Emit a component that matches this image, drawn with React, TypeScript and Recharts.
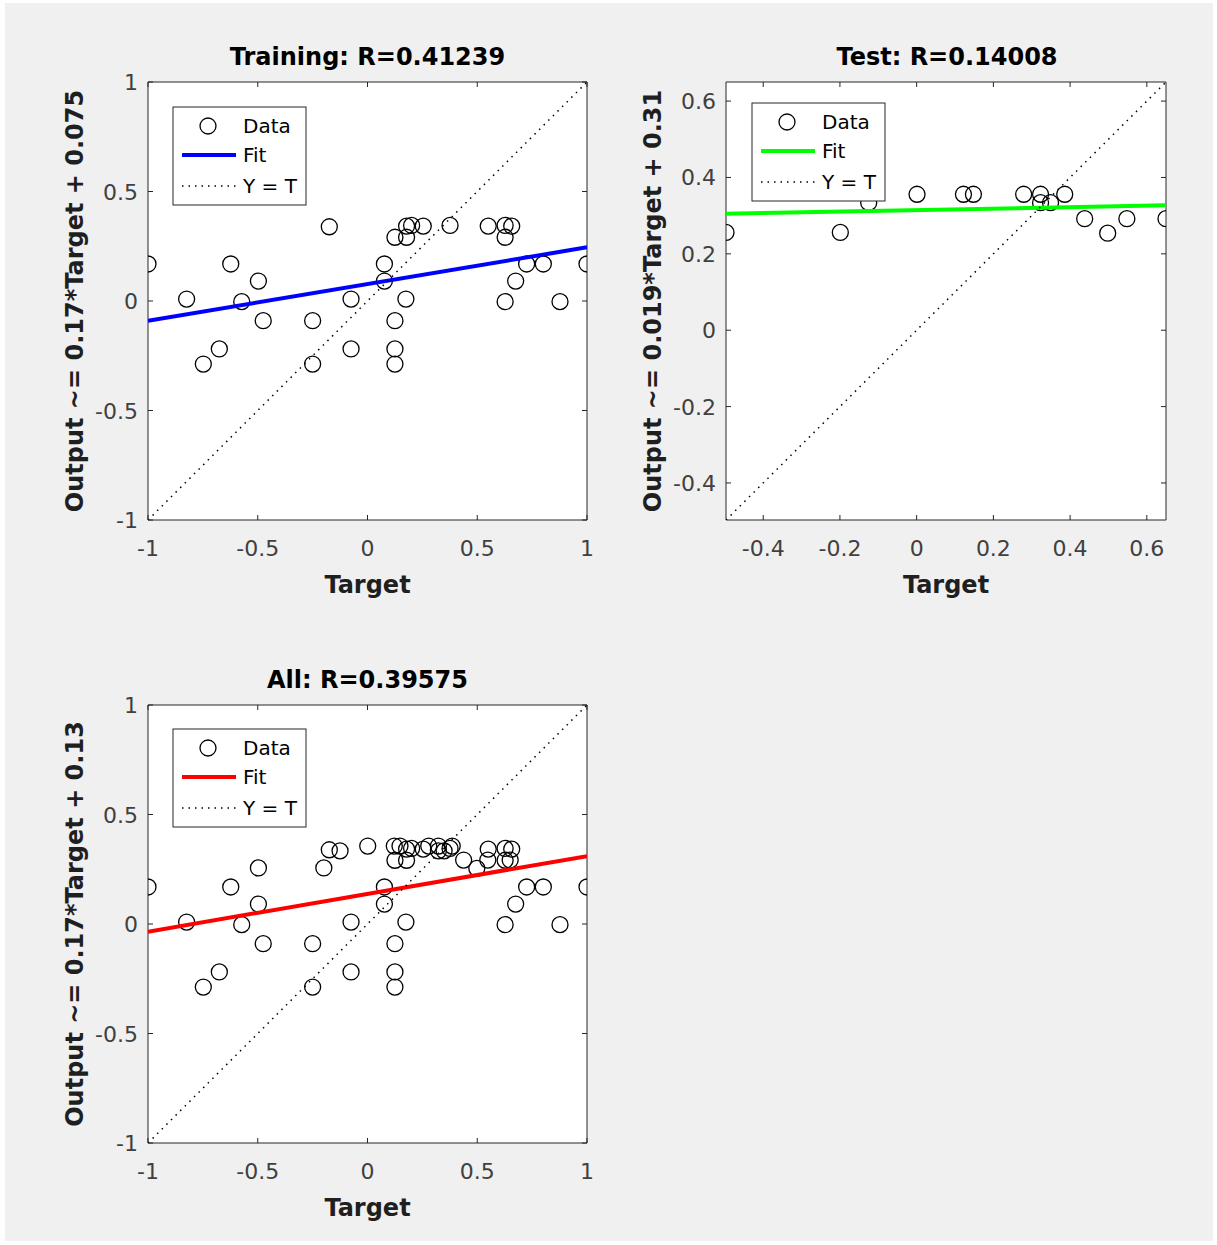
import { ScatterChart, Scatter, XAxis, YAxis, CartesianGrid, ReferenceArea } from "recharts";

// training set: target vs network output
const trainTarget = [
  -1, -0.623, -0.174, -0.497, -0.824, -0.573, -0.475, -0.25, -0.675, -0.748, -0.25, -0.075,
  -0.075, 0.077, 0.077, 0.125, 0.178, 0.178, 0.201, 0.254, 0.376, 0.55, 0.627, 0.657, 0.627,
  0.175, 0.125, 0.125, 0.125, 0.725, 0.801, 1, 0.675, 0.627, 0.877,
];
const trainOutput = [
  0.169, 0.169, 0.339, 0.091, 0.009, -0.003, -0.09, -0.09, -0.219, -0.288, -0.288, 0.009,
  -0.219, 0.169, 0.091, 0.291, 0.291, 0.342, 0.345, 0.342, 0.345, 0.342, 0.345, 0.342, 0.291,
  0.009, -0.09, -0.219, -0.288, 0.169, 0.169, 0.169, 0.091, -0.003, -0.003,
];

// test set
const testTarget = [
  -0.497, -0.199, -0.125, 0.001, 0.122, 0.148, 0.279, 0.323, 0.323, 0.349, 0.386, 0.438, 0.498,
  0.548, 0.65,
];
const testOutput = [
  0.256, 0.256, 0.334, 0.356, 0.356, 0.356, 0.356, 0.356, 0.334, 0.334, 0.356, 0.292, 0.254,
  0.292, 0.292,
];

// fit lines (end points)
const trainFitTarget = [-1, 1];
const trainFitOutput = [-0.09, 0.245];
const testFitTarget = [-0.497, 0.65];
const testFitOutput = [0.305, 0.327];
const allFitTarget = [-1, 1];
const allFitOutput = [-0.035, 0.31];

const fullRange = [-1, 1];
const testRange = [-0.497, 0.65];
const fullTicks = [-1, -0.5, 0, 0.5, 1];
const testTicks = [-0.4, -0.2, 0, 0.2, 0.4, 0.6];

const FONT = "DejaVu Sans";
const AXIS = "#262626";
const TICK = "#404040";

const pairs = (xs: number[], ys: number[]) => xs.map((x, i) => ({ x, y: ys[i] }));

const trainData = pairs(trainTarget, trainOutput);
const testData = pairs(testTarget, testOutput);
const allData = [...trainData, ...testData];

const Ring = (p: any) => (
  <circle cx={p.cx} cy={p.cy} r={8} fill="none" stroke="#000" strokeWidth={1.3} />
);
const NoDot = () => <g />;

const makeXTick = (h: number) => (p: any) => (
  <g>
    <line x1={p.x} x2={p.x} y1={p.y} y2={p.y - 5} stroke={AXIS} />
    <line x1={p.x} x2={p.x} y1={p.y - h} y2={p.y - h + 5} stroke={AXIS} />
    <text x={p.x} y={p.y + 36} textAnchor="middle" fontSize={22} fill={TICK} fontFamily={FONT}>
      {String(p.payload.value)}
    </text>
  </g>
);

const makeYTick = (w: number) => (p: any) => (
  <g>
    <line x1={p.x} x2={p.x + 5} y1={p.y} y2={p.y} stroke={AXIS} />
    <line x1={p.x + w} x2={p.x + w - 5} y1={p.y} y2={p.y} stroke={AXIS} />
    <text x={p.x - 10} y={p.y + 8} textAnchor="end" fontSize={22} fill={TICK} fontFamily={FONT}>
      {String(p.payload.value)}
    </text>
  </g>
);

type Box = { x: number; y: number; w: number; h: number };

function Panel({ box, range, ticks, data, fit, color, yLabel }: {
  box: Box; range: number[]; ticks: number[]; data: any[]; fit: any[]; color: string; yLabel: string;
}) {
  const ML = 140, MT = 30, MR = 30, MB = 100;
  const YW = 60, XH = 40;
  const diag = pairs(range, range);
  return (
    <div style={{ position: "absolute", left: box.x - ML, top: box.y - MT }}>
      <ScatterChart width={box.w + ML + MR} height={box.h + MT + MB} margin={{ top: MT, right: MR, bottom: MB - XH, left: ML - YW }}>
        <CartesianGrid horizontal={false} vertical={false} fill="#fff" />
        <ReferenceArea x1={range[0]} x2={range[1]} y1={range[0]} y2={range[1]} fill="none" stroke={AXIS} strokeWidth={1} fillOpacity={0} ifOverflow="visible" />
        <XAxis
          type="number" dataKey="x" domain={range} ticks={ticks} interval={0} allowDataOverflow
          height={XH} tickSize={0} tickMargin={0} tickLine={false} axisLine={false}
          tick={makeXTick(box.h)}
          label={(p: any) => (
            <text x={p.viewBox.x + p.viewBox.width / 2} y={p.viewBox.y + 73} textAnchor="middle" fontSize={24} fontWeight="bold" fill="#1f1f1f" fontFamily={FONT}>
              Target
            </text>
          )}
        />
        <YAxis
          type="number" dataKey="y" domain={range} ticks={ticks} interval={0} allowDataOverflow
          width={YW} tickSize={0} tickMargin={0} tickLine={false} axisLine={false}
          tick={makeYTick(box.w)}
          label={(p: any) => {
            const cx = p.viewBox.x + p.viewBox.width - 65;
            const cy = p.viewBox.y + p.viewBox.height / 2;
            return (
              <text x={cx} y={cy} transform={`rotate(-90 ${cx} ${cy})`} textAnchor="middle" fontSize={24} fontWeight="bold" fill="#1f1f1f" fontFamily={FONT}>
                {yLabel}
              </text>
            );
          }}
        />
        <Scatter data={data} shape={Ring} isAnimationActive={false} />
        <Scatter data={fit} shape={NoDot} line={{ stroke: color, strokeWidth: 4 }} isAnimationActive={false} />
        <Scatter data={diag} shape={NoDot} line={{ stroke: "#000", strokeWidth: 1.5, strokeDasharray: "1.5 5" }} isAnimationActive={false} />
      </ScatterChart>
    </div>
  );
}

function LegendBox({ x, y, color }: { x: number; y: number; color: string }) {
  const rows = [y + 19, y + 48, y + 79];
  return (
    <g fontFamily={FONT} fontSize={20} fill="#000">
      <rect x={x} y={y} width={133} height={98} fill="#fff" stroke={AXIS} strokeWidth={1} />
      <circle cx={x + 35} cy={rows[0]} r={8} fill="none" stroke="#000" strokeWidth={1.3} />
      <line x1={x + 9} x2={x + 63} y1={rows[1]} y2={rows[1]} stroke={color} strokeWidth={4} />
      <line x1={x + 9} x2={x + 63} y1={rows[2]} y2={rows[2]} stroke="#000" strokeWidth={1.5} strokeDasharray="1.5 5" />
      <text x={x + 70} y={rows[0] + 7}>Data</text>
      <text x={x + 70} y={rows[1] + 7}>Fit</text>
      <text x={x + 70} y={rows[2] + 7}>Y = T</text>
    </g>
  );
}

export default function App() {
  const trainBox = { x: 148, y: 82, w: 439, h: 438 };
  const testBox = { x: 726, y: 82, w: 440, h: 438 };
  const allBox = { x: 148, y: 705, w: 439, h: 438 };
  return (
    <div style={{ position: "absolute", left: 0, top: 0, width: 1217, height: 1245, background: "#fff" }}>
      <div style={{ position: "absolute", left: 5, top: 3, width: 1208, height: 1238, background: "#f0f0f0" }} />
      <Panel box={trainBox} range={fullRange} ticks={fullTicks} data={trainData} fit={pairs(trainFitTarget, trainFitOutput)} color="#0000ff" yLabel="Output ~= 0.17*Target + 0.075" />
      <Panel box={testBox} range={testRange} ticks={testTicks} data={testData} fit={pairs(testFitTarget, testFitOutput)} color="#00ff00" yLabel="Output ~= 0.019*Target + 0.31" />
      <Panel box={allBox} range={fullRange} ticks={fullTicks} data={allData} fit={pairs(allFitTarget, allFitOutput)} color="#ff0000" yLabel="Output ~= 0.17*Target + 0.13" />
      <svg width={1217} height={1245} style={{ position: "absolute", left: 0, top: 0, pointerEvents: "none" }}>
        <g fontFamily={FONT} fontSize={24} fontWeight="bold" fill="#000" textAnchor="middle">
          <text x={367.5} y={65}>Training: R=0.41239</text>
          <text x={947} y={65}>Test: R=0.14008</text>
          <text x={367.5} y={688}>All: R=0.39575</text>
        </g>
        <LegendBox x={173} y={107} color="#0000ff" />
        <LegendBox x={752} y={103} color="#00ff00" />
        <LegendBox x={173} y={729} color="#ff0000" />
      </svg>
    </div>
  );
}
